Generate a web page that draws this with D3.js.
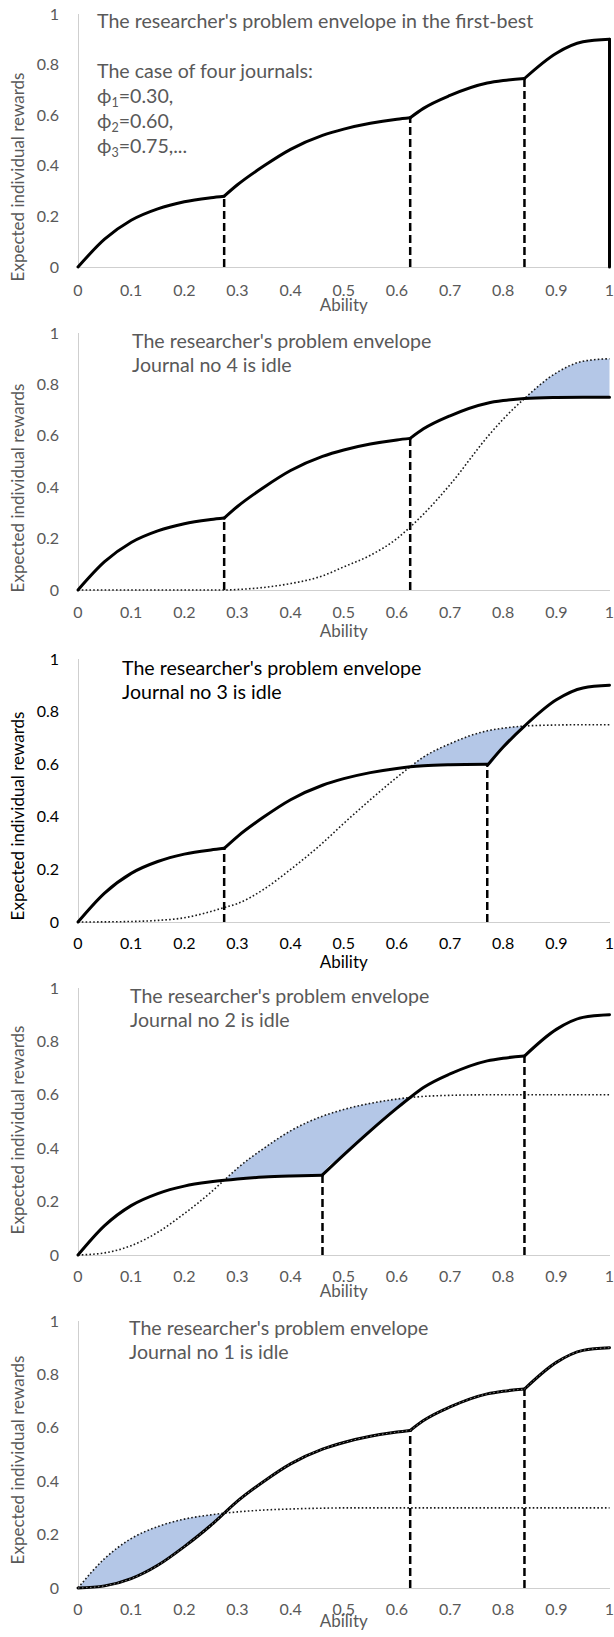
<!DOCTYPE html>
<meta charset="utf-8">
<style>
body { margin: 0; background: #fff; }
svg { display: block; font-family: Lato, "Open Sans", sans-serif; }
.axis-line { stroke: #cfcfcf; stroke-width: 1; shape-rendering: crispEdges; }
.tick-label { fill: #595959; font-size: 16px; }
.axis-title { fill: #595959; font-size: 17px; }
.note { fill: #595959; font-size: 19.6px; }
.dark .tick-label, .dark .axis-title, .dark .note { fill: #000; }
.envelope { fill: none; stroke: #000; stroke-width: 3; stroke-linecap: round; stroke-linejoin: round; }
.texture { fill: none; stroke: #888; stroke-width: 1; stroke-dasharray: 1.5,2.5; }
.idle { fill: none; stroke: #1a1a1a; stroke-width: 1.6; stroke-dasharray: 1.6,2.2; }
.cutoff { stroke: #000; stroke-width: 2.5; stroke-dasharray: 8,4; }
.shade { fill: #b4c7e7; stroke: none; }
</style>
<body>
<script src="https://d3js.org/d3.v7.min.js"></script>
<script>
// ability grid shared by every journal curve
var abilities = [0, 0.05, 0.1, 0.15, 0.2, 0.25, 0.275, 0.3, 0.35, 0.4, 0.46, 0.5, 0.55, 0.6, 0.625, 0.65, 0.7, 0.77, 0.8, 0.84, 0.9, 0.95, 1];

// expected reward of publishing in journal i
var journal1 = [0, 0.11, 0.185, 0.23, 0.258, 0.274, 0.28, 0.285, 0.292, 0.296, 0.299, 0.3, 0.3, 0.3, 0.3, 0.3, 0.3, 0.3, 0.3, 0.3, 0.3, 0.3, 0.3];
var journal2 = [0, 0.008, 0.035, 0.085, 0.155, 0.235, 0.28, 0.325, 0.4, 0.465, 0.52, 0.545, 0.568, 0.584, 0.59, 0.594, 0.598, 0.6, 0.6, 0.6, 0.6, 0.6, 0.6];
var journal3 = [0, 0.0005, 0.002, 0.006, 0.016, 0.04, 0.055, 0.07, 0.125, 0.2, 0.3, 0.375, 0.465, 0.55, 0.59, 0.627, 0.678, 0.727, 0.737, 0.745, 0.749, 0.75, 0.75];
var journal4 = [0, 0, 0, 0, 0, 0, 0, 0.002, 0.01, 0.025, 0.055, 0.09, 0.135, 0.2, 0.245, 0.295, 0.41, 0.595, 0.665, 0.745, 0.845, 0.89, 0.9];
var journals = [journal1, journal2, journal3, journal4];

var xTicks = [0, 0.1, 0.2, 0.3, 0.4, 0.5, 0.6, 0.7, 0.8, 0.9, 1];
var yTicks = [0, 0.2, 0.4, 0.6, 0.8, 1];
var xTitle = "Ability";
var yTitle = "Expected individual rewards";

// which journal forms the envelope on which ability range: [journal, from, to]
var envelope1 = [[1, 0, 0.275], [2, 0.275, 0.625], [3, 0.625, 0.84], [4, 0.84, 1]];
var envelope2 = [[1, 0, 0.275], [2, 0.275, 0.625], [3, 0.625, 1]];
var envelope3 = [[1, 0, 0.275], [2, 0.275, 0.77], [4, 0.77, 1]];
var envelope4 = [[1, 0, 0.46], [3, 0.46, 0.84], [4, 0.84, 1]];
var envelope5 = [[2, 0, 0.625], [3, 0.625, 0.84], [4, 0.84, 1]];

var cutoffs1 = [0.275, 0.625, 0.84];
var cutoffs2 = [0.275, 0.625];
var cutoffs3 = [0.275, 0.77];
var cutoffs4 = [0.46, 0.84];
var cutoffs5 = [0.625, 0.84];

// idle journal and the range where it beats the envelope
var idle = [null, 4, 3, 2, 1];
var lossRange = [null, [0.84, 1], [0.625, 0.84], [0.275, 0.625], [0, 0.275]];

var titles = [
  ["The researcher's problem envelope in the first-best", "", "The case of four journals:", ["1", "=0.30,"], ["2", "=0.60,"], ["3", "=0.75,..."]],
  ["The researcher's problem envelope", "Journal no 4 is idle"],
  ["The researcher's problem envelope", "Journal no 3 is idle"],
  ["The researcher's problem envelope", "Journal no 2 is idle"],
  ["The researcher's problem envelope", "Journal no 1 is idle"]
];

var envelopes = [envelope1, envelope2, envelope3, envelope4, envelope5];
var cutoffs = [cutoffs1, cutoffs2, cutoffs3, cutoffs4, cutoffs5];

// layout of the five stacked charts
var layout = [
  {top: 14, bottom: 267, tickY: 296, xTitleY: 311, yTitleY: 177, noteX: 97, noteY: 28, lineH: 25, closeRight: true},
  {top: 333, bottom: 590, tickY: 618, xTitleY: 637, yTitleY: 488, noteX: 132, noteY: 348, lineH: 23.5},
  {top: 659, bottom: 922, tickY: 949, xTitleY: 968, yTitleY: 816, noteX: 122, noteY: 675, lineH: 23.5, dark: true},
  {top: 988, bottom: 1255, tickY: 1282, xTitleY: 1297, yTitleY: 1130, noteX: 130, noteY: 1003, lineH: 23.5},
  {top: 1321, bottom: 1588, tickY: 1615, xTitleY: 1627, yTitleY: 1460, noteX: 129, noteY: 1335, lineH: 23.5, texture: true}
];

var W = 614, H = 1637;
var x = d3.scaleLinear().domain([0, 1]).range([78, 609.5]);

var svg = d3.select("body").append("svg")
  .attr("width", W)
  .attr("height", H);

function valueAt(j, a) {
  return journals[j - 1][abilities.indexOf(a)];
}

function piecePoints(j, from, to) {
  return abilities
    .map(function(a, i) { return [a, journals[j - 1][i]]; })
    .filter(function(p) { return p[0] >= from - 1e-9 && p[0] <= to + 1e-9; });
}

layout.forEach(function(L, k) {
  var y = d3.scaleLinear().domain([0, 1]).range([L.bottom, L.top]);
  var line = d3.line()
    .x(function(d) { return x(d[0]); })
    .y(function(d) { return y(d[1]); })
    .curve(d3.curveMonotoneX);

  var g = svg.append("g").attr("class", L.dark ? "dark" : null);

  // axes
  g.append("line").attr("class", "axis-line")
    .attr("x1", x(0)).attr("x2", x(0)).attr("y1", y(0)).attr("y2", y(1));
  g.append("line").attr("class", "axis-line")
    .attr("x1", x(0)).attr("x2", x(1)).attr("y1", y(0)).attr("y2", y(0));

  g.selectAll(".ytick").data(yTicks).enter().append("text")
    .attr("class", "tick-label")
    .attr("x", 59)
    .attr("y", function(d) { return y(d); })
    .attr("dy", "0.35em")
    .attr("text-anchor", "end")
    .text(function(d) { return d3.format("~g")(d); });

  g.selectAll(".xtick").data(xTicks).enter().append("text")
    .attr("class", "tick-label")
    .attr("x", function(d) { return x(d); })
    .attr("y", L.tickY)
    .attr("text-anchor", "middle")
    .text(function(d) { return d3.format("~g")(d); });

  g.append("text").attr("class", "axis-title")
    .attr("x", x(0.5)).attr("y", L.xTitleY)
    .attr("text-anchor", "middle")
    .text(xTitle);

  g.append("text").attr("class", "axis-title")
    .attr("transform", "translate(24," + L.yTitleY + ") rotate(-90)")
    .attr("text-anchor", "middle")
    .text(yTitle);

  // shaded loss from the idle journal
  if (idle[k]) {
    var r = lossRange[k];
    var upper = piecePoints(idle[k], r[0], r[1]);
    var lower = [];
    envelopes[k].forEach(function(p) {
      var a = Math.max(p[1], r[0]), b = Math.min(p[2], r[1]);
      if (b > a) lower = lower.concat(piecePoints(p[0], a, b));
    });
    lower.reverse();
    g.append("path").attr("class", "shade")
      .attr("d", line(upper) + "L" + line(lower).slice(1) + "Z");
  }

  // cutoff abilities
  cutoffs[k].forEach(function(c) {
    var top = 0;
    envelopes[k].forEach(function(p) { if (c >= p[1] && c <= p[2]) top = Math.max(top, valueAt(p[0], c)); });
    g.append("line").attr("class", "cutoff")
      .attr("x1", x(c)).attr("x2", x(c))
      .attr("y1", y(0)).attr("y2", y(top));
  });

  // idle journal curve
  if (idle[k]) {
    g.append("path").attr("class", "idle")
      .attr("d", line(piecePoints(idle[k], 0, 1)));
  }

  // envelope
  envelopes[k].forEach(function(p) {
    var pts = piecePoints(p[0], p[1], p[2]);
    g.append("path").attr("class", "envelope").attr("d", line(pts));
    if (L.texture) g.append("path").attr("class", "texture").attr("d", line(pts));
  });
  if (L.closeRight) {
    g.append("line").attr("class", "envelope")
      .attr("x1", x(1)).attr("x2", x(1))
      .attr("y1", y(valueAt(4, 1))).attr("y2", y(0));
  }

  // note text
  titles[k].forEach(function(t, i) {
    var tx = g.append("text").attr("class", "note")
      .attr("x", L.noteX)
      .attr("y", L.noteY + i * L.lineH);
    if (typeof t === "string") {
      tx.text(t);
    } else {
      tx.append("tspan").text("\u03D5");
      tx.append("tspan").attr("dy", 4).attr("font-size", "12.5px").text(t[0]);
      tx.append("tspan").attr("dy", -4).text(t[1]);
    }
  });
});
</script>
</body>
